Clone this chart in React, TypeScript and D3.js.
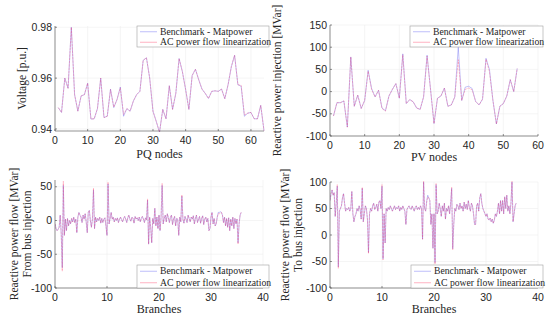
import React from "react";
import * as d3 from "d3";

// ---- data ----
const PQ_NODES = d3.range(1, 65);
const V_BENCH = [0.9484, 0.9465, 0.96, 0.956, 0.98, 0.9535, 0.947, 0.953, 0.9535, 0.958, 0.9439, 0.944, 0.948, 0.96, 0.9445, 0.945, 0.9557, 0.9484, 0.9516, 0.9565, 0.945, 0.948, 0.947, 0.951, 0.9535, 0.9548, 0.967, 0.968, 0.96, 0.947, 0.943, 0.9387, 0.9477, 0.944, 0.957, 0.9477, 0.954, 0.9677, 0.9626, 0.9555, 0.9477, 0.961, 0.9635, 0.9594, 0.9557, 0.954, 0.952, 0.9548, 0.955, 0.9548, 0.9557, 0.9519, 0.9574, 0.9645, 0.969, 0.9574, 0.9568, 0.945, 0.9462, 0.9465, 0.944, 0.944, 0.9493, 0.9393];
const V_AC = [0.9484, 0.9465, 0.96, 0.956, 0.98, 0.9535, 0.947, 0.953, 0.9535, 0.958, 0.9439, 0.944, 0.948, 0.96, 0.9445, 0.945, 0.9555, 0.9486, 0.9516, 0.9562, 0.9457, 0.948, 0.947, 0.951, 0.9535, 0.9548, 0.967, 0.968, 0.96, 0.947, 0.943, 0.9387, 0.9477, 0.944, 0.957, 0.9477, 0.954, 0.9677, 0.9626, 0.9555, 0.9477, 0.961, 0.9635, 0.9594, 0.9557, 0.954, 0.952, 0.9548, 0.955, 0.9548, 0.9557, 0.9519, 0.9574, 0.9645, 0.969, 0.9574, 0.9572, 0.9455, 0.9462, 0.9465, 0.944, 0.944, 0.9493, 0.9393];

const PV_NODES = d3.range(1, 55);
const Q_BENCH = [-55, -25, -25, -21, -80, 78, -33, -8, -38, -20, 48, 7, -12, 3, -37, -43, -10, 5, 18, -15, 85, -27, -18, -23, -37, -40, -12, 82, 5, -72, -15, -10, 8, -33, -30, -12, 100, -20, 10, 12, 7, -22, -30, -17, 75, 50, -20, -73, -33, -27, -10, 27, 0, 52];
const Q_AC = [-55, -25, -25, -21, -80, 78, -33, -8, -38, -20, 46, 5, -12, 3, -38, -44, -10, 5, 18, -15, 83, -27, -18, -23, -37, -40, -12, 80, 5, -72, -15, -10, 8, -33, -30, -12, 72, -20, 5, 8, 4, -22, -30, -17, 73, 45, -20, -73, -33, -27, -10, 27, 0, 52];

const BRANCH_STEP = 0.2;
const QF_BENCH = [
  -5, -12, -15, -13, -10, 8, -20, -70, 52, -22, 2, -15, 3, -8, 0, -5, 3, -2, 5, -3,
  2, -18, 5, 12, 8, 5, -3, 8, 2, 10, -2, -18, 12, 15, 0, -10, 2, 45, -12, 5,
  -2, 3, 0, 5, -4, 3, -3, 2, 4, -8, -22, 54, -5, 3, 12, 2, 5, -2, 3, 0,
  4, -3, 2, 5, 1, -2, 3, 6, 2, -3, 4, 8, 2, -1, 5, 3, -4, 6, 2, 4,
  0, 5, -2, 3, 6, 2, -3, 4, 1, 30, -35, 5, -10, -33, 3, -5, 18, -8, 5, -12,
  8, -15, 5, 52, -5, 3, 8, -2, 10, 4, -3, 5, 8, -6, 2, 6, -8, 3, 2, -22,
  5, -2, 36, 2, -4, 6, 2, -3, 8, 3, -2, 5, 2, 7, -5, 3, 8, -3, 2, 6,
  -4, 3, 7, -6, 2, 5, -2, 3, -15, -12, 5, 12, -5, 3, -8, -5, 5, 12, 12, 13,
  12, 8, -3, 5, -8, 3, -10, 4, -15, 2, -8, 5, -12, 3, -5, 2, -33, -5, 8, 12,
];
const QF_AC = [
  -5, -12, -15, -13, -10, 8, -20, -75, 58, -22, 2, -15, 3, -8, 0, -5, 3, -2, 5, -3,
  2, -18, 5, 12, 8, 5, -3, 8, 2, 10, -2, -18, 12, 15, 0, -10, 2, 48, -12, 5,
  -2, 3, 0, 5, -4, 3, -3, 2, 4, -8, -22, 57, -5, 3, 12, 2, 5, -2, 3, 0,
  4, -3, 2, 5, 1, -2, 3, 6, 2, -3, 4, 8, 2, -1, 5, 3, -4, 6, 2, 4,
  0, 5, -2, 3, 6, 2, -3, 4, 1, 32, -35, 5, -10, -33, 3, -5, 18, -8, 5, -12,
  8, -15, 5, 55, -5, 3, 8, -2, 10, 4, -3, 5, 8, -6, 2, 6, -8, 3, 2, -22,
  5, -2, 38, 2, -4, 6, 2, -3, 8, 3, -2, 5, 2, 7, -5, 3, 8, -3, 2, 6,
  -4, 3, 7, -6, 2, 5, -2, 3, -15, -12, 5, 12, -5, 3, -8, -5, 5, 10, 10, 11,
  12, 8, -3, 5, -8, 3, -10, 4, -15, 2, -8, 5, -12, 3, -5, 2, -35, -5, 8, 12,
];
const QT_BENCH = [
  65, 78, 85, 75, 80, 35, 60, 92, -60, 45, 50, 55, 70, 78, 60, 45, 50, 48, 52, 45,
  50, 82, 40, 25, 35, 40, 50, 45, 55, 48, 30, 88, 25, 40, 55, 50, 30, -33, 40, 50,
  45, 55, 60, 48, 52, 58, 45, 62, 65, 50, 92, -45, 40, -15, 50, 45, 52, 48, 55, 50,
  45, 50, 55, 48, 52, 50, 55, 45, 52, 48, 55, 50, 45, 20, 48, 52, 55, 50, 48, 55,
  50, 45, 52, 55, 48, 52, 48, 55, 50, -8, 100, 50, 45, 65, 75, 70, 65, 20, 40, -25,
  40, -52, 95, 40, 45, 60, 50, 35, 55, 45, 60, 30, 50, 45, 55, 40, 60, 88, -26, 20,
  50, 45, 58, 55, 48, 60, 50, 55, 45, 62, 50, 58, 48, 65, 52, 45, 60, 55, 40, 20,
  20, 55, 60, 45, 70, 78, 60, 50, 45, 40, 35, 40, 30, 28, 32, 25, 30, 22, 28, 40,
  35, 45, 60, 40, 65, 45, 65, 40, 72, 50, 75, 45, 55, 40, 60, 100, 25, 40, 55, 60,
];
const QT_AC = [
  65, 78, 85, 75, 80, 35, 60, 95, -63, 45, 50, 55, 70, 78, 60, 45, 50, 48, 52, 45,
  50, 82, 40, 25, 35, 40, 50, 45, 55, 48, 30, 90, 25, 40, 55, 50, 30, -35, 40, 50,
  45, 55, 60, 48, 52, 58, 45, 62, 65, 50, 95, -47, 40, -15, 50, 45, 52, 48, 55, 50,
  45, 50, 55, 48, 52, 50, 55, 45, 52, 48, 55, 50, 45, 20, 48, 52, 55, 50, 48, 55,
  50, 45, 52, 55, 48, 52, 48, 55, 50, -8, 103, 50, 45, 62, 72, 70, 65, 20, 40, -25,
  40, -55, 97, 40, 45, 60, 50, 35, 55, 45, 60, 30, 50, 45, 55, 40, 60, 90, -28, 20,
  50, 45, 58, 55, 48, 60, 50, 55, 45, 62, 50, 58, 48, 65, 52, 45, 60, 55, 40, 20,
  20, 55, 60, 45, 70, 78, 60, 50, 45, 40, 35, 40, 30, 28, 32, 25, 30, 22, 28, 40,
  35, 45, 60, 40, 65, 45, 65, 40, 72, 50, 75, 45, 55, 40, 60, 103, 25, 40, 55, 60,
];
const BRANCHES = QF_BENCH.map((_, i) => i * BRANCH_STEP);

const LEGEND = ["Benchmark - Matpower", "AC power flow linearization"];

const BENCH_COLOR = "#5c5cf0";
const AC_COLOR = "#ff3c64";
const SERIF = "Liberation Serif";
const SANS = "Liberation Sans";

type PanelProps = {
  id: string;
  box: { l: number; r: number; t: number; b: number };
  xDomain: [number, number];
  yDomain: [number, number];
  xTicks: number[];
  yTicks: number[];
  yFmt?: (d: number) => string;
  xs: number[];
  bench: number[];
  ac: number[];
  xLabel: string;
  xLabelY: number;
  yLabels: { text: string; x: number }[];
  legend: { x: number; y: number; w: number; h: number };
};

function Panel(p: PanelProps) {
  const { l, r, t, b } = p.box;
  const x = d3.scaleLinear().domain(p.xDomain).range([l, r]);
  const y = d3.scaleLinear().domain(p.yDomain).range([b, t]);
  const fmt = p.yFmt || ((d: number) => String(d));
  const line = d3
    .line<number>()
    .x((_, i) => x(p.xs[i]))
    .y((d) => y(d));
  const lg = p.legend;
  const rowH = lg.h / 2;

  return (
    <g>
      <defs>
        <clipPath id={p.id}>
          <rect x={l} y={t - 1} width={r - l + 1} height={b - t + 2} />
        </clipPath>
      </defs>
      {/* grid */}
      {p.xTicks.map((v) => (
        <line key={"gx" + v} x1={x(v)} x2={x(v)} y1={t} y2={b} stroke="#efefef" strokeWidth={0.6} />
      ))}
      {p.yTicks.map((v) => (
        <line key={"gy" + v} x1={l} x2={r} y1={y(v)} y2={y(v)} stroke="#efefef" strokeWidth={0.6} />
      ))}
      {/* series */}
      <g clipPath={`url(#${p.id})`}>
        <path d={line(p.bench) || ""} fill="none" stroke={BENCH_COLOR} strokeOpacity={0.5} strokeWidth={0.75} />
        <path d={line(p.ac) || ""} fill="none" stroke={AC_COLOR} strokeOpacity={0.45} strokeWidth={0.75} strokeDasharray="2.5,0.8" />
      </g>
      {/* axes */}
      <line x1={l} x2={l} y1={t} y2={b} stroke="#4a4a4a" strokeWidth={0.6} />
      <line x1={l} x2={r} y1={b} y2={b} stroke="#4a4a4a" strokeWidth={0.6} />
      {p.xTicks.map((v) => (
        <g key={"tx" + v}>
          <line x1={x(v)} x2={x(v)} y1={b} y2={b - 2} stroke="#4a4a4a" strokeWidth={0.6} />
          <text x={x(v)} y={b + 13} textAnchor="middle" fontFamily={SANS} fontSize={10.5} fill="#262626">
            {v}
          </text>
        </g>
      ))}
      {p.yTicks.map((v) => (
        <g key={"ty" + v}>
          <line x1={l} x2={l + 2} y1={y(v)} y2={y(v)} stroke="#4a4a4a" strokeWidth={0.6} />
          <text x={l - 3} y={y(v)} dy="0.35em" textAnchor="end" fontFamily={SANS} fontSize={10.5} fill="#262626">
            {fmt(v)}
          </text>
        </g>
      ))}
      <text x={(l + r) / 2} y={p.xLabelY} textAnchor="middle" fontFamily={SERIF} fontSize={12} fill="#262626">
        {p.xLabel}
      </text>
      {p.yLabels.map((yl) => (
        <text
          key={yl.text}
          transform={`translate(${yl.x},${(t + b) / 2}) rotate(-90)`}
          textAnchor="middle"
          fontFamily={SERIF}
          fontSize={11.5}
          fill="#262626"
        >
          {yl.text}
        </text>
      ))}
      {/* legend */}
      <rect x={lg.x} y={lg.y} width={lg.w} height={lg.h} fill="#fff" stroke="#a0a0a0" strokeWidth={0.6} />
      {LEGEND.map((name, i) => {
        const cy = lg.y + rowH * (i + 0.5) + 0.5;
        return (
          <g key={name}>
            <line
              x1={lg.x + 3}
              x2={lg.x + 20}
              y1={cy}
              y2={cy}
              stroke={i === 0 ? BENCH_COLOR : AC_COLOR}
              strokeOpacity={0.5}
              strokeWidth={0.8}
            />
            <text x={lg.x + 23} y={cy} dy="0.33em" fontFamily={SERIF} fontSize={9.7} fill="#262626">
              {name}
            </text>
          </g>
        );
      })}
    </g>
  );
}

export default function App() {
  return (
    <svg
      width={550}
      height={321}
      style={{ position: "absolute", left: 0, top: 0, background: "#fff" }}
    >
      <Panel
        id="c1"
        box={{ l: 55, r: 264, t: 26, b: 131 }}
        xDomain={[0, 64]}
        yDomain={[0.9392, 0.9805]}
        xTicks={[0, 10, 20, 30, 40, 50, 60]}
        yTicks={[0.94, 0.96, 0.98]}
        yFmt={(d) => d.toFixed(2)}
        xs={PQ_NODES}
        bench={V_BENCH}
        ac={V_AC}
        xLabel="PQ nodes"
        xLabelY={158}
        yLabels={[{ text: "Voltage [p.u.]", x: 26 }]}
        legend={{ x: 137, y: 26, w: 132, h: 21 }}
      />
      <Panel
        id="c2"
        box={{ l: 330, r: 538, t: 25, b: 136 }}
        xDomain={[0, 60]}
        yDomain={[-100, 150]}
        xTicks={[0, 10, 20, 30, 40, 50, 60]}
        yTicks={[-100, -50, 0, 50, 100, 150]}
        xs={PV_NODES}
        bench={Q_BENCH}
        ac={Q_AC}
        xLabel="PV nodes"
        xLabelY={161}
        yLabels={[{ text: "Reactive power injection [MVar]", x: 281 }]}
        legend={{ x: 410, y: 26, w: 133, h: 21 }}
      />
      <Panel
        id="c3"
        box={{ l: 55, r: 263, t: 180, b: 288 }}
        xDomain={[0, 40]}
        yDomain={[-100, 60]}
        xTicks={[0, 10, 20, 30, 40]}
        yTicks={[-100, -50, 0, 50]}
        xs={BRANCHES}
        bench={QF_BENCH}
        ac={QF_AC}
        xLabel="Branches"
        xLabelY={313}
        yLabels={[
          { text: "Reactive power flow [MVar]", x: 18 },
          { text: "From bus injection", x: 31 },
        ]}
        legend={{ x: 137, y: 265, w: 132, h: 23 }}
      />
      <Panel
        id="c4"
        box={{ l: 330, r: 538, t: 182, b: 288 }}
        xDomain={[0, 40]}
        yDomain={[-100, 100]}
        xTicks={[0, 10, 20, 30, 40]}
        yTicks={[-100, -50, 0, 50, 100]}
        xs={BRANCHES}
        bench={QT_BENCH}
        ac={QT_AC}
        xLabel="Branches"
        xLabelY={313}
        yLabels={[
          { text: "Reactive power flow [MVar]", x: 289 },
          { text: "To bus injection", x: 302 },
        ]}
        legend={{ x: 411, y: 265, w: 132, h: 23 }}
      />
    </svg>
  );
}
